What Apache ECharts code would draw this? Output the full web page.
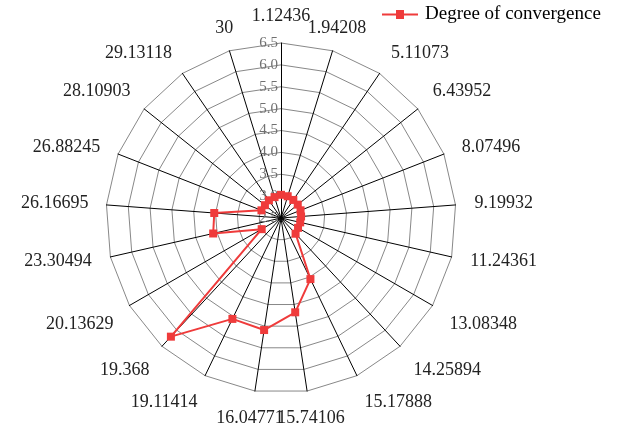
<!DOCTYPE html>
<html>
<head>
<meta charset="utf-8">
<script src="https://cdn.jsdelivr.net/npm/echarts@6/dist/echarts.min.js"></script>
<style>
html, body { margin: 0; padding: 0; background: #ffffff; }
#chart { width: 621px; height: 432px; }
</style>
</head>
<body>
<div id="chart"></div>
<script>
// Spoke labels, listed clockwise from the top spoke
const categories = [
  '1.12436', '1.94208', '5.11073', '6.43952', '8.07496', '9.19932', '11.24361',
  '13.08348', '14.25894', '15.17888', '15.74106', '16.04771', '19.11414', '19.368',
  '20.13629', '23.30494', '26.16695', '26.88245', '28.10903', '29.13118', '30'
];

// Degree of convergence at each spoke
const convergence = [
  3.03, 3.02, 3.00, 2.99, 2.98, 2.96, 2.95,
  2.95, 2.99, 4.05, 4.68, 5.09, 5.06, 6.20,
  3.01, 4.09, 4.03, 2.98, 2.97, 2.99, 3.00
];

// Radial scale
const radialMin = 2.5;
const radialMax = 6.5;
const radialStep = 0.5;

// Small [dx, dy] nudges for the spoke labels, in the same order as categories
const labelNudge = [
  [0, 0], [-30, -6], [1, -5], [1, -6], [1, 2], [1, 2], [1, 2],
  [1, 10], [1, 11], [0, 10], [-32, 10], [31, 10], [0, 10], [0, 11],
  [0, 10], [-1, 2], [0, 2], [-1, 2], [0, -7], [0, -5], [9, -6]
];

const seriesName = 'Degree of convergence';
const red = '#EF3B3B';
const baseNameGap = 18;

// The vertical part of a nudge is taken up by a per-spoke name gap
// (outward along the spoke), the horizontal remainder by padding.
function labelPlacement(i, n) {
  const theta = i * 2 * Math.PI / n;          // clockwise from the top
  const s = Math.sin(theta), c = Math.cos(theta);
  const [dx, dy] = labelNudge[i];
  const extra = Math.abs(c) > 0.45 ? -dy / c : 0;
  const restX = Math.round(dx - s * extra);
  return {
    nameGap: baseNameGap + Math.round(extra),
    padding: [0, -restX, 0, restX]
  };
}

// ECharts lays radar indicators out counter-clockwise, so keep the first
// spoke on top and walk the rest backwards to run clockwise.
const order = [0].concat(categories.map((_, i) => i).slice(1).reverse());
const indicators = order.map(i => {
  const place = labelPlacement(i, categories.length);
  return {
    name: categories[i],
    min: radialMin,
    max: radialMax,
    nameGap: place.nameGap,
    nameTextStyle: { padding: place.padding }
  };
});
const values = order.map(i => convergence[i]);

const center = [281, 218];
const radius = 175;

const chart = echarts.init(document.getElementById('chart'), null, { renderer: 'canvas' });
chart.setOption({
  animation: false,
  backgroundColor: '#ffffff',
  legend: {
    left: 382,
    top: 5,
    padding: 0,
    itemWidth: 36,
    itemHeight: 9,
    icon: 'path://M0,3.5 L14,3.5 L14,0 L22,0 L22,3.5 L36,3.5 L36,5.5 L22,5.5 L22,9 L14,9 L14,5.5 L0,5.5 Z',
    data: [seriesName],
    textStyle: { fontFamily: 'Liberation Serif', fontSize: 19, color: '#000000', padding: [0, 0, 0, 2] }
  },
  radar: {
    center: center,
    radius: radius,
    startAngle: 90,
    shape: 'polygon',
    splitNumber: (radialMax - radialMin) / radialStep,
    indicator: indicators,
    nameGap: baseNameGap,
    axisName: { color: '#222222', fontSize: 18, fontFamily: 'Liberation Serif' },
    axisLine: { lineStyle: { color: '#000000', width: 1 } },
    splitLine: { lineStyle: { color: '#888888', width: 1 } },
    splitArea: { show: false },
    axisTick: { show: false },
    axisLabel: { show: false }
  },
  // A polar system sharing the radar's centre and radius carries the
  // tick labels along the top spoke.
  polar: { center: center, radius: radius },
  angleAxis: { type: 'value', startAngle: 90, show: false },
  radiusAxis: {
    type: 'value',
    min: radialMin,
    max: radialMax,
    interval: radialStep,
    axisLine: { show: false },
    axisTick: { show: false },
    splitLine: { show: false },
    axisLabel: {
      color: '#707070',
      fontSize: 15,
      fontFamily: 'Liberation Serif',
      margin: 3,
      formatter: v => v.toFixed(1)
    }
  },
  series: [{
    type: 'radar',
    name: seriesName,
    symbol: 'rect',
    symbolSize: 8,
    lineStyle: { color: red, width: 2 },
    itemStyle: { color: red },
    data: [{ name: seriesName, value: values }]
  }]
});
</script>
</body>
</html>
